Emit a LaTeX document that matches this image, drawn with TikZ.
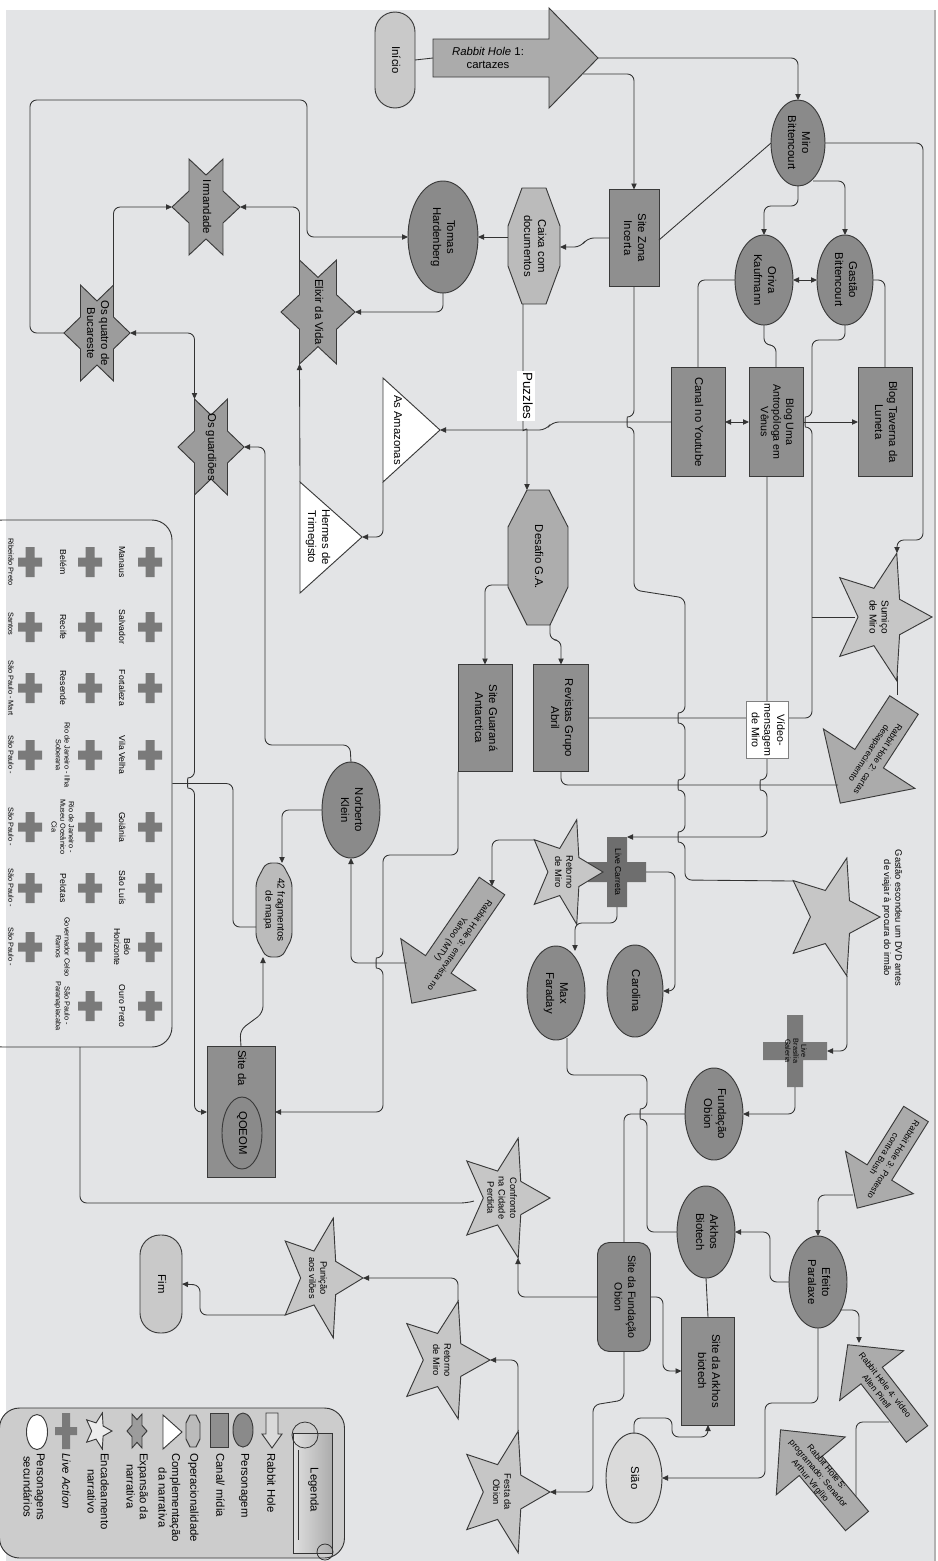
\documentclass[tikz,border=0pt]{standalone}
\usepackage{fontspec}
\setmainfont{Liberation Sans}
\usepackage{graphicx}
\usetikzlibrary{shapes.geometric,arrows.meta,calc}
\definecolor{bgc}{HTML}{E3E4E6}
\definecolor{lc}{HTML}{333333}
\definecolor{bc}{HTML}{3A3A3A}
\definecolor{persf}{HTML}{8A8A8A}
\definecolor{boxf}{HTML}{8F8F8F}
\definecolor{hexf}{HTML}{9C9C9C}
\definecolor{starf}{HTML}{C6C6C6}
\definecolor{octf}{HTML}{BBBBBB}
\definecolor{desf}{HTML}{ADADAD}
\definecolor{rhf}{HTML}{ABABAB}
\definecolor{crossf}{HTML}{7A7A7A}
\definecolor{legf}{HTML}{CCCCCC}
\definecolor{startf}{HTML}{C9C9C9}
\definecolor{secf}{HTML}{DADADA}
\newcommand\R[1]{\rotatebox{-90}{\begin{tabular}{@{}c@{}}#1\end{tabular}}}
\newcommand\fivestar[4]{\draw[#4,shift={(#1)}] (0:#2 and #3) -- (36:{0.45*#2} and {0.45*#3}) -- (72:#2 and #3) -- (108:{0.45*#2} and {0.45*#3}) -- (144:#2 and #3) -- (180:{0.45*#2} and {0.45*#3}) -- (216:#2 and #3) -- (252:{0.45*#2} and {0.45*#3}) -- (288:#2 and #3) -- (324:{0.45*#2} and {0.45*#3}) -- cycle;}
\newcommand\hexstar[4]{\draw[#4,shift={(#1)}] (0:#2 and #3) -- (30:{0.577*#2} and {0.577*#3}) -- (60:#2 and #3) -- (90:{0.577*#2} and {0.577*#3}) -- (120:#2 and #3) -- (150:{0.577*#2} and {0.577*#3}) -- (180:#2 and #3) -- (210:{0.577*#2} and {0.577*#3}) -- (240:#2 and #3) -- (270:{0.577*#2} and {0.577*#3}) -- (300:#2 and #3) -- (330:{0.577*#2} and {0.577*#3}) -- cycle;}
\newcommand\rharrow[7]{\begin{scope}[shift={#2},rotate=#3]
\draw[rhs] (0,{-#5/2}) -- ({#4-#7},{-#5/2}) -- ({#4-#7},{-#6/2}) -- (#4,0) -- ({#4-#7},{#6/2}) -- ({#4-#7},{#5/2}) -- (0,{#5/2}) -- cycle;
\coordinate (#1tail) at (0,0); \coordinate (#1tip) at (#4,0);
\end{scope}}
\newcommand\crossat[6]{\fill[#6,shift={(#1)}] (-#2,-#3) rectangle (#2,#3) (-#4,-#5) rectangle (#4,#5);}
\begin{document}
\begin{tikzpicture}[x=0.75pt,y=-0.75pt,font=\fontsize{8.5}{10.5}\selectfont,
 ln/.style={draw=lc,line width=0.65pt,rounded corners=5pt},
 arr/.style={ln,-{Triangle[length=4.5pt,width=4pt]}},
 darr/.style={ln,{Triangle[length=4.5pt,width=4pt]}-{Triangle[length=4.5pt,width=4pt]}},
 sz/.style 2 args={minimum width=#1*0.75pt,minimum height=#2*0.75pt},
 shp/.style={draw=bc,line width=0.7pt,inner sep=0pt,outer sep=0pt},
 pers/.style={shp,ellipse,fill=persf},
 box/.style={shp,rectangle,fill=boxf},
 hexs/.style={shp,fill=hexf},
 stars/.style={shp,fill=starf},
 octs/.style={shp,fill=octf},
 rhs/.style={shp,fill=rhf},
 tri/.style={shp,fill=white},
 txt/.style={inner sep=0pt},
 stt/.style={inner sep=0pt,font=\fontsize{7}{8.5}\selectfont},
 rht/.style={inner sep=0pt,align=center,font=\fontsize{6.5}{8}\selectfont},
 city/.style={inner sep=0pt,font=\fontsize{6.5}{7.5}\selectfont},
 cits/.style={inner sep=0pt,font=\fontsize{5.5}{6.5}\selectfont},
 leg/.style={inner sep=0pt,anchor=north,font=\fontsize{8.5}{10}\selectfont},
 ]
\useasboundingbox (0,0) rectangle (938,1561);
\fill[white] (0,0) rectangle (938,1561);
\fill[bgc] (6,10) rectangle (935,1561);
\draw[gray!60,line width=1pt] (935,10) -- (935,1561);

% ---------- cities box
\node[draw=lc,line width=0.7pt,rounded corners=15pt,sz={190}{527},inner sep=0pt] (cities) at (77,783.5) {};
\begin{scope}
\clip (6,520) rectangle (172,1047);
\foreach \yy in {562,627,688,755,827,888,947,1006}{\crossat{150,\yy}{4.5}{15}{12}{4.5}{crossf}\crossat{90,\yy}{4.5}{15}{12}{4.5}{crossf}}
\foreach \yy in {562,627,688,755,827,888,947}{\crossat{30,\yy}{4.5}{15}{12}{4.5}{crossf}}
\node[city] (cA1) at (121,562) {\R{Manaus}};
\node[city] (cA2) at (121,627) {\R{Salvador}};
\node[city] (cA3) at (121,688) {\R{Fortaleza}};
\node[city] (cA4) at (121,755) {\R{Vila Velha}};
\node[city] (cA5) at (121,827) {\R{Goiânia}};
\node[city] (cA6) at (121,888) {\R{São Luís}};
\node[city] (cA7) at (121,947) {\R{Belo\\Horizonte}};
\node[city] (cA8) at (121,1006) {\R{Ouro Preto}};
\node[city] (cB1) at (62,562) {\R{Belém}};
\node[city] (cB2) at (62,627) {\R{Recife}};
\node[city] (cB3) at (62,688) {\R{Resende}};
\node[cits] (cB4) at (62,755) {\R{Rio de Janeiro - Ilha\\Soberana}};
\node[cits] (cB5) at (62,827) {\R{Rio de Janeiro -\\Museu Oceânico\\Cia}};
\node[city] (cB6) at (62,888) {\R{Pelotas}};
\node[cits] (cB7) at (62,947) {\R{Governador Celso\\Ramos}};
\node[cits] (cB8) at (62,1006) {\R{São Paulo -\\Paranapiacaba}};
\node[cits] (cC1) at (10,562) {\R{Ribeirão Preto}};
\node[cits] (cC2) at (10,624) {\R{Santos}};
\node[cits] (cC3) at (10,688) {\R{São Paulo - Mart}};
\node[cits] (cC4) at (10,755) {\R{São Paulo -}};
\node[cits] (cC5) at (10,827) {\R{São Paulo -}};
\node[cits] (cC6) at (10,888) {\R{São Paulo -}};
\node[cits] (cC7) at (10,947) {\R{São Paulo -}};
\end{scope}

% ---------- legend box
\node[draw=lc,fill=legf,line width=0.7pt,rounded corners=15pt,sz={345}{150},inner sep=0pt] (legend) at (172,1483) {};
\shade[left color=gray!25,right color=gray!65] (293,1433) rectangle (332,1553);
\draw[lc,line width=0.6pt] (293,1433) rectangle (332,1553);
\draw[lc,line width=0.6pt] (305,1435) circle (13);
\draw[lc,line width=0.6pt] (325,1552) circle (8);
\draw[lc,line width=0.5pt] (298,1450) -- (298,1540);
\node[txt,font=\fontsize{8.5}{9}\selectfont] (legT) at (313,1490) {\R{Legenda}};
\draw[shp,fill=secf] (266,1413) -- (278,1413) -- (278,1434) -- (282,1434) -- (272,1448) -- (262,1434) -- (266,1434) -- cycle;
\node[leg] (lg1) at (270,1453) {\R{Rabbit Hole}};
\node[pers,sz={20}{34}] (lgP) at (243,1430) {};
\node[leg] (lg2) at (244,1453) {\R{Personagem}};
\node[box,sz={18}{34}] (lgC) at (219,1430) {};
\node[leg] (lg3) at (219,1453) {\R{Canal/ mídia}};
\draw[octs,shift={(193,1431)}] (-3,-16) -- (3,-16) -- (7,-8) -- (7,8) -- (3,16) -- (-3,16) -- (-7,8) -- (-7,-8) -- cycle;
\node[leg] (lg4) at (193,1453) {\R{Operacionalidade}};
\draw[tri] (163,1415) -- (182,1432) -- (163,1449) -- cycle;
\node[leg] (lg5) at (168,1453) {\R{Complementação\\da narrativa}};
\coordinate (lgH) at (137,1431); \hexstar{lgH}{10}{19.6}{hexs}
\node[leg] (lg6) at (136,1453) {\R{Expansão da\\narrativa}};
\coordinate (lgS) at (98,1431); \fivestar{lgS}{14}{19}{shp,fill=gray!15}
\node[leg] (lg7) at (97,1453) {\R{Encadeamento\\narrativo}};
\crossat{66,1431}{4}{18}{11}{4}{crossf}
\node[leg] (lg8) at (65,1453) {\R{\itshape Live Action}};
\node[shp,ellipse,fill=white,sz={21}{35}] (lgE) at (37,1432) {};
\node[leg] (lg9) at (33,1453) {\R{Personagens\\secundários}};

% ---------- top
\node[shp,fill=startf,rounded corners=15pt,sz={40}{96}] (inicio) at (395,60) {\R{Início}};
\rharrow{rhA}{(433,58)}{0}{165}{38}{100}{49}
\node[txt,font=\fontsize{8.5}{10}\selectfont,align=center] (rhAT) at (488,58) {\textit{Rabbit Hole} 1:\\cartazes};
\coordinate (rhAlow) at (583,74);

\node[pers,sz={54}{86}] (miro) at (798,143) {\R{Miro\\Bittencourt}};
\node[box,sz={50}{97}] (zona) at (634,238) {\R{Site Zona\\Incerta}};
\node[pers,sz={58}{90}] (oriva) at (764,280) {\R{Oriva\\Kaufmann}};
\node[pers,sz={56}{90}] (gastao) at (845,280) {\R{Gastão\\Bittencourt}};
\node[box,sz={54}{109}] (canal) at (698,422) {\R{Canal no Youtube}};
\node[box,sz={54}{109},font=\fontsize{8}{9.5}\selectfont] (blogv) at (776,422) {\R{Blog Uma\\Antropóloga em\\Vênus}};
\node[box,sz={54}{109}] (taverna) at (885,422) {\R{Blog Taverna da\\Luneta}};
\node[pers,sz={70}{112}] (tomas) at (443,237) {\R{Tomas\\Hardenberg}};
\coordinate (caixa) at (534,246);
\draw[octs,shift={(caixa)}] (-12,-58) -- (12,-58) -- (26,-20) -- (26,20) -- (12,58) -- (-12,58) -- (-26,20) -- (-26,-20) -- cycle;
\node[txt] (caixaT) at (caixa) {\R{Caixa com\\documentos}};

% hexagrams
\coordinate (irm) at (206,207); \hexstar{irm}{34}{55.4}{hexs}
\node[txt] (irmT) at (irm) {\R{Irmandade}};
\coordinate (bucar) at (97,333); \hexstar{bucar}{33}{55.4}{hexs}
\node[txt] (bucarT) at (bucar) {\R{Os quatro de\\Bucareste}};
\coordinate (elixir) at (318,312); \hexstar{elixir}{37}{60}{hexs}
\node[txt] (elixirT) at (elixir) {\R{Elixir da Vida}};
\coordinate (guard) at (211,447); \hexstar{guard}{33}{55.4}{hexs}
\node[txt] (guardT) at (guard) {\R{Os guardiões}};

% triangles
\coordinate (amazTip) at (440,430); \coordinate (amazBot) at (383,482);
\draw[tri] (383,378) -- (amazTip) -- (amazBot) -- cycle;
\node[txt] (amazT) at (397,430) {\R{As Amazonas}};
\coordinate (hermTop) at (300,482); \coordinate (hermTip) at (362,537);
\draw[tri] (hermTop) -- (hermTip) -- (300,593) -- cycle;
\node[txt] (hermT) at (318,537) {\R{Hermes de\\Trimegisto}};

% desafio & boxes
\coordinate (desafio) at (538,557);
\draw[shp,fill=desf,shift={(desafio)}] (-11,-67) -- (11,-67) -- (30,-30) -- (30,30) -- (12,68) -- (-11,68) -- (-30,30) -- (-30,-30) -- cycle;
\node[txt] (desafioT) at (desafio) {\R{Desafio G.A.}};
\node[box,sz={54}{107}] (guarana) at (485,718) {\R{Site Guaraná\\Antarctica}};
\node[box,sz={55}{107}] (revistas) at (561,718) {\R{Revistas Grupo\\Abril}};

% right side
\coordinate (sumico) at (881,617); \fivestar{sumico}{51}{67}{stars}
\node[stt,font=\fontsize{7.5}{9}\selectfont] (sumicoT) at (878,617) {\R{Sumiço\\de Miro}};
\rharrow{rhB}{(904,705)}{-123}{117}{34}{109}{53}
\node[rht,rotate=-123] (rhBT) at (873,756) {Rabbit Hole 2: cartas\\desaparecimento};

% middle
\node[pers,sz={58}{96}] (norb) at (351,810) {\R{Norberto\\Klein}};
\coordinate (frag) at (274,910);
\draw[octs,rounded corners=4pt,shift={(frag)}] (-8,-47) -- (8,-47) -- (18,-28) -- (18,28) -- (8,47) -- (-8,47) -- (-18,28) -- (-18,-28) -- cycle;
\node[txt,font=\fontsize{7.5}{9}\selectfont] (fragT) at (frag) {\R{42 fragmentos\\de mapa}};
\node[box,sz={68}{131}] (qoeom) at (241,1112) {};
\node[txt] (qoeomT) at (241,1068) {\R{Site da}};
\node[pers,sz={40}{72}] (qoeomE) at (242,1133) {\R{QOEOM}};

\coordinate (carreta) at (617,872);
\crossat{carreta}{10}{35}{29}{10}{crossf!90!black}
\coordinate (ret1) at (565,872); \fivestar{ret1}{38}{55}{stars}
\node[stt] (ret1T) at (563,872) {\R{Retorno\\de Miro}};
\node[txt,font=\fontsize{6.5}{7}\selectfont] (carretaT) at (617,872) {\R{Live Carreta}};
\rharrow{rhC}{(492,886)}{-124.4}{142}{31}{91}{47}
\node[rht,rotate=-124.4] (rhCT) at (455,942) {Rabbit Hole 3: entrevista no\\Yahoo (MTV)};
\coordinate (rhCedge) at (407,963);
\node[pers,sz={58}{94}] (maxf) at (556,993) {\R{Max\\Faraday}};
\node[pers,sz={56}{92}] (carol) at (635,991) {\R{Carolina}};

\coordinate (dvd) at (832,917); \fivestar{dvd}{48}{62}{stars}
\node[txt,font=\fontsize{7}{8.5}\selectfont] (dvdT) at (892,918) {\R{Gastão escondeu um DVD antes\\de viajar à procura do irmão}};
\coordinate (bras) at (795,1051);
\crossat{bras}{8}{36}{32}{9}{crossf}
\node[txt,font=\fontsize{5.5}{6}\selectfont] (brasT) at (bras) {\R{Live\\Brasília\\Galeria}};
\node[pers,sz={58}{92}] (fobion) at (714,1114) {\R{Fundação\\Obion}};
\node[pers,sz={58}{92}] (arkhos) at (706,1232) {\R{Arkhos\\Biotech}};
\node[pers,sz={58}{92}] (efeito) at (818,1282) {\R{Efeito\\Paralaxe}};
\rharrow{rhD}{(916,1114)}{-122}{111}{29}{80}{42}
\node[rht,rotate=-122] (rhDT) at (889,1157) {Rabbit Hole 3: Protesto\\contra Bush};
\coordinate (rhDedge) at (853,1195);
\rharrow{rhE}{(917,1434)}{127.8}{113}{27}{81}{39}
\node[rht,rotate=-52.2] (rhET) at (881,1388) {Rabbit Hole 4: vídeo\\Allen Pirell};
\rharrow{rhF}{(857,1521)}{130}{119}{30}{90}{47}
\node[rht,rotate=-50] (rhFT) at (818,1474) {Rabbit Hole 5:\\programado: Senador\\Arthur Virgílio};
\node[box,sz={53}{108}] (arksite) at (708,1371) {\R{Site da Arkhos\\biotech}};
\node[shp,fill=persf,rounded corners=9pt,sz={53}{109},font=\fontsize{8}{10}\selectfont] (siteob) at (624,1297) {\R{Site da Fundação\\Obion}};
\node[shp,ellipse,fill=secf,sz={56}{90}] (siao) at (634,1478) {\R{Sião}};

\coordinate (conf) at (504,1198); \fivestar{conf}{46}{63}{stars}
\node[stt] (confT) at (501,1198) {\R{Confronto\\na Cidade\\Perdida}};
\coordinate (festa) at (504,1492); \fivestar{festa}{46}{64}{stars}
\node[stt] (festaT) at (501,1492) {\R{Festa da\\Obion}};
\coordinate (ret2) at (444,1360); \fivestar{ret2}{46}{62}{stars}
\node[stt] (ret2T) at (441,1360) {\R{Retorno\\de Miro}};
\coordinate (pun) at (320,1278); \fivestar{pun}{43}{63}{stars}
\node[stt] (punT) at (317,1278) {\R{Punição\\aos vilões}};
\node[shp,fill=startf,rounded corners=15pt,sz={42}{98}] (fim) at (161,1284) {\R{Fim}};

% ---------- connectors
\draw[ln] (inicio.east) -- (rhAtail);
\draw[arr] (rhAtip) -| (miro.north);
\draw[arr] (rhAlow) -| (zona.north);
\draw[ln,rounded corners=0pt] (miro.west) -- ($(zona.east)+(0,2)$);
\draw[arr] (miro.south) -- ++(0,20) -| (oriva.north);
\draw[arr] ($(miro)+(15,38)$) -| (gastao.north);
\draw[darr] (oriva.east) -- (gastao.west);
\draw[arr] (miro.east) -- (923,143) -- (923,540) -| ($(sumico)+(16,-64)$);
\draw[ln] (oriva.west) -| (canal.north);
\draw[ln] (oriva.south) -- ++(0,20) -| (blogv.north);
\draw[ln] (gastao.east) -| (taverna.north);
\draw[ln] (gastao.south) -- ++(0,15) -- (812,340) -- (812,417) .. controls +(-7,0) and +(-7,0) .. (812,427) -- (812,718) -- (revistas.east);
\draw[darr] (canal.east) -- (blogv.west);
\draw[arr] (blogv.east) -- (taverna.west);
\draw[arr] (canal.west) -- (552,422) -- (546,430) -- (amazTip);
\draw[arr] (zona.west) -- (587,238) -- (581,247) -- ($(caixa)+(26,1)$);
\draw[arr] ($(caixa)+(-26,-9)$) -- (tomas.east);
\draw[arr] (tomas.south) |- ($(elixir)+(37,0)$);
\draw[arr] ($(bucar)+(-33,0)$) -- (30,333) -- (30,100) -- (307,100) -- (307,237) -- (tomas.west);
\draw[arr] ($(bucar)+(16.5,-48)$) |- ($(irm)+(-34,0)$);
\draw[arr] ($(elixir)+(-18.5,-52)$) |- ($(irm)+(34,0)$);
\draw[darr] ($(bucar)+(33,0)$) -| ($(guard)+(-16.5,-48)$);
\draw[arr] (hermTop) -- ($(elixir)+(-18.5,52)$);
\draw[arr] (amazBot) |- (hermTip);
\draw[arr] (norb.north) -- (350,745) -- (265,745) -- (265,447) -- ($(guard)+(33,0)$);
\draw[arr] ($(guard)+(-16.5,48)$) -- (194.5,778) .. controls +(-7,0) and +(-7,0) .. (194.5,788) |- (qoeom.west);
\draw[arr] (norb.west) -| ($(frag)+(8,-47)$);
\draw[ln] (cities.east) -- (233,783.5) -- (233,927) -- ($(frag)+(-18,17)$);
\draw[arr] (qoeom.north) -- (240,1030) -- (263,1013) -- ($(frag)+(-11,47)$);
\draw[arr] (guarana.south west) -- (458,855) -- (383,855) -- (383,958) .. controls +(-7,0) and +(-7,0) .. (383,968) -- (383,1112) -- (qoeom.east);
\draw[arr] (rhCedge) -| (norb.south);
\draw[arr] ($(ret1)+(-31,-32)$) -| (rhCtail);
\draw[arr] ($(blogv.south)+(-9,0)$) -- (767,780) .. controls +(-7,0) and +(-7,0) .. (767,790) |- ($(carreta)+(10,-35)$);
\draw[arr] ($(carreta)+(29,0)$) -- (675,872) -- (675,991) -- (carol.east);
\draw[arr] ($(carreta)+(0,35)$) -- (617,923) -- (575,923) -- (575,951);
\draw[ln] ($(maxf.south)+(11,-2)$) -- (567,1075) -- (647,1075) -- (647,1109) .. controls +(-7,0) and +(-7,0) .. (647,1119) -- (647,1232) -- (arkhos.west);
\draw[ln] (zona.south) -- (634,417) .. controls +(-7,0) and +(-7,0) .. (634,427) -- (634,590) -- (685,598) -- (685,713) .. controls +(-7,0) and +(-7,0) .. (685,723) -- (685,780) .. controls +(-7,0) and +(-7,0) .. (685,790) -- (685,832) .. controls +(-7,0) and +(-7,0) .. (685,842) -- (685,880) -- ($(dvd)+(-39,-36)$);
\draw[arr] ($(dvd)+(15,59)$) |- ($(bras)+(32,0)$);
\draw[arr] ($(bras)+(0,36)$) |- (fobion.east);
\draw[ln] (fobion.west) -| (siteob.north);
\draw[arr] (rhDedge) -| (efeito.north);
\draw[arr] (efeito.west) -- (770,1282) -- (770,1232) -- (arkhos.east);
\draw[arr] ($(efeito)+(22,28)$) -| (859,1343);
\draw[ln] (856,1496) -- (856,1422) -- (889,1422);
\draw[arr] (efeito.south) -- (818,1403) -- (765,1403) -- (765,1478) -- (siao.east);
\draw[ln] (arkhos.south) -- (arksite.north);
\draw[arr] (siteob.east) -- (663,1297) -- (663,1371) -- (arksite.west);
\draw[arr] (siao.north) -- (634,1418) -- (672,1418) -- (672,1437) -- (708,1437) -- (arksite.south);
\draw[arr] (siteob.west) -| ($(conf)+(14,60)$);
\draw[arr] (siteob.south) -- (624,1400) -- (593,1405) -- (593,1492) -- ($(festa)+(46,0)$);
\draw[arr] ($(festa)+(14,-61)$) |- ($(ret2)+(46,0)$);
\draw[arr] ($(ret2)+(14,-59)$) |- ($(pun)+(43,0)$);
\draw[arr] ($(pun)+(-35,37)$) -- (200,1315) -- (200,1285) -- (fim.east);
\draw[ln] (80,1047) -- (80,1203) -- (467,1203) -- ($(conf)+(-30,3)$);
\draw[ln] (revistas.south) -- (561,785) -- (838,785);
\draw[ln] ($(sumico)+(16,59)$) -- (897,695);
\draw[ln] ($(sumico)+(-26,0)$) -- (812,617);
\draw[arr] ($(caixa)+(-11,58)$) -- (523,424) .. controls (523,431) and (527,428) .. (527,436) -- ($(desafio)+(-11,-67)$);
\draw[arr] ($(desafio)+(-30,28)$) -- (485,585) -- (guarana.north);
\draw[arr] ($(desafio)+(12,68)$) -- (550,640) -- (561,640) -- (revistas.north);

% labels on connectors
\node[fill=white,inner sep=1pt,font=\fontsize{10}{11}\selectfont] (puzz) at (526,396) {\R{Puzzles}};
\node[draw=gray,fill=white,line width=0.4pt,inner sep=1.5pt,font=\fontsize{8}{9.5}\selectfont] (video) at (767,730) {\R{Vídeo-\\mensagem\\de Miro}};
\end{tikzpicture}
\end{document}
